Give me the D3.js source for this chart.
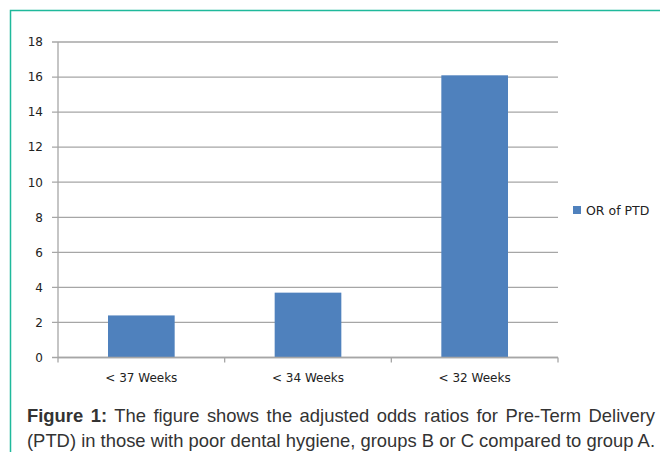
<!DOCTYPE html>
<html>
<head>
<meta charset="utf-8">
<script src="https://cdn.jsdelivr.net/npm/d3@7"></script>
<style>
  body { margin: 0; background: #fff; }
  svg { display: block; }
</style>
</head>
<body>
<div id="chart"></div>
<script>
var categories = ["< 37 Weeks", "< 34 Weeks", "< 32 Weeks"];
var orValues = [2.4, 3.7, 16.1];
var yTicks = [0, 2, 4, 6, 8, 10, 12, 14, 16, 18];
var seriesName = "OR of PTD";
var captionLines = [
  ["Figure 1:", " The figure shows the adjusted odds ratios for Pre-Term Delivery"],
  ["", "(PTD) in those with poor dental hygiene, groups B or C compared to group A."]
];

var width = 660, height = 452;
var margin = {top: 42, left: 58, right: 102, bottom: 94.5};
var plotW = width - margin.left - margin.right,
    plotH = height - margin.top - margin.bottom;
var labelFont = "'DejaVu Sans', Verdana, sans-serif";

var svg = d3.select("#chart")
  .append("svg")
  .attr("width", width)
  .attr("height", height);

// teal frame (runs off right/bottom edges)
svg.append("rect")
  .attr("x", 10.5).attr("y", 10.5)
  .attr("width", 700).attr("height", 500)
  .style("fill", "none")
  .style("stroke", "#1fb99b")
  .style("stroke-width", 1.5);

var g = svg.append("g")
  .attr("transform", "translate(" + margin.left + "," + margin.top + ")");

var x = d3.scaleBand()
  .domain(categories)
  .range([0, plotW])
  .paddingInner(0.6)
  .paddingOuter(0.3);

var y = d3.scaleLinear()
  .domain([0, 18])
  .range([plotH, 0]);

// gridlines
g.selectAll("line.grid")
  .data(yTicks)
  .enter()
  .append("line")
  .attr("class", "grid")
  .attr("x1", -6)
  .attr("x2", plotW)
  .attr("y1", function(d) { return y(d); })
  .attr("y2", function(d) { return y(d); })
  .style("stroke", "#a6a6a6")
  .style("stroke-width", 1.3);

// y axis line
g.append("line")
  .attr("x1", 0).attr("x2", 0)
  .attr("y1", 0).attr("y2", plotH)
  .style("stroke", "#a6a6a6")
  .style("stroke-width", 1.3);

// y tick labels
g.selectAll("text.ytick")
  .data(yTicks)
  .enter()
  .append("text")
  .attr("class", "ytick")
  .attr("x", -15)
  .attr("y", function(d) { return y(d); })
  .attr("dy", "0.36em")
  .style("text-anchor", "end")
  .style("font-family", labelFont)
  .style("font-size", "12px")
  .style("fill", "#222")
  .text(function(d) { return d; });

// bars
g.selectAll("rect.bar")
  .data(orValues)
  .enter()
  .append("rect")
  .attr("class", "bar")
  .attr("x", function(d, i) { return x(categories[i]); })
  .attr("width", x.bandwidth())
  .attr("y", function(d) { return y(d); })
  .attr("height", function(d) { return plotH - y(d); })
  .style("fill", "#4f81bd");

// x axis line and category ticks
g.append("line")
  .attr("x1", 0).attr("x2", plotW)
  .attr("y1", plotH).attr("y2", plotH)
  .style("stroke", "#a6a6a6")
  .style("stroke-width", 1.3);

var bounds = d3.range(categories.length + 1).map(function(i) { return i * plotW / categories.length; });
g.selectAll("line.xtick")
  .data(bounds)
  .enter()
  .append("line")
  .attr("class", "xtick")
  .attr("x1", function(d) { return d; })
  .attr("x2", function(d) { return d; })
  .attr("y1", plotH)
  .attr("y2", plotH + 5)
  .style("stroke", "#a6a6a6")
  .style("stroke-width", 1.3);

g.selectAll("text.xlabel")
  .data(categories)
  .enter()
  .append("text")
  .attr("class", "xlabel")
  .attr("x", function(d) { return x(d) + x.bandwidth() / 2; })
  .attr("y", plotH + 24)
  .style("text-anchor", "middle")
  .style("font-family", labelFont)
  .style("font-size", "12px")
  .style("fill", "#222")
  .text(function(d) { return d; });

// legend
var legend = svg.append("g").attr("transform", "translate(573,206)");
legend.append("rect")
  .attr("width", 8).attr("height", 8)
  .style("fill", "#4f81bd");
legend.append("text")
  .attr("x", 13).attr("y", 4)
  .attr("dy", "0.36em")
  .style("font-family", labelFont)
  .style("font-size", "12.5px")
  .style("fill", "#222")
  .text(seriesName);

// caption, justified between x=27 and x=655
var capLeft = 27, capRight = 655;
var capTexts = captionLines.map(function(parts, i) {
  var t = svg.append("text")
    .attr("x", capLeft)
    .attr("y", 422 + i * 25)
    .style("font-family", "'Liberation Sans', Arial, sans-serif")
    .style("font-size", "16px")
    .style("fill", "#333");
  if (parts[0]) {
    t.append("tspan").style("font-weight", "bold").text(parts[0]);
  }
  t.append("tspan").text(parts[1]);
  return t;
});
// size the font so the last line fills the width, then justify the first
var lastW = capTexts[1].node().getComputedTextLength();
var fs = 16 * (capRight - capLeft) / lastW;
capTexts.forEach(function(t) { t.style("font-size", fs + "px"); });
capTexts.forEach(function(t, i) {
  var full = captionLines[i][0] + captionLines[i][1];
  var gaps = full.trim().split(/\s+/).length - 1;
  var w = t.node().getComputedTextLength();
  var extra = (capRight - capLeft - w) / gaps;
  if (extra > 0) t.style("word-spacing", extra + "px");
});
</script>
</body>
</html>
